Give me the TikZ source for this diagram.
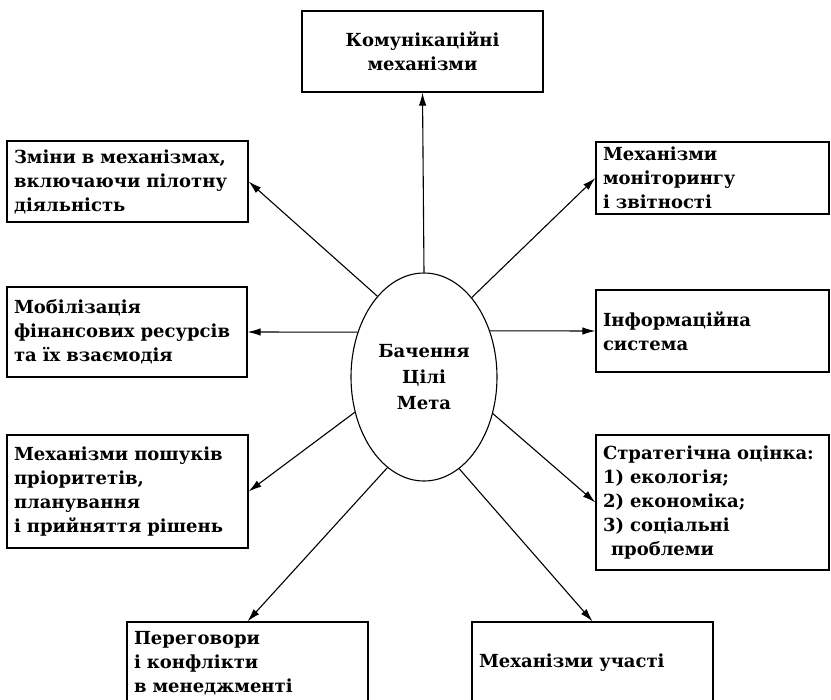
\documentclass[tikz,border=0pt]{standalone}
\usepackage{fontspec}
\setmainfont{DejaVu Serif}
\usetikzlibrary{arrows.meta,shapes.geometric}
\tikzset{
  box/.style={draw, line width=1.2pt, rectangle, inner xsep=7pt, inner ysep=0pt,
    align=left, font=\fontsize{18}{24}\selectfont\bfseries},
  hub/.style={draw, line width=1.1pt, ellipse, minimum width=146pt, minimum height=208pt,
    inner sep=0pt, align=center, font=\fontsize{18}{26}\selectfont\bfseries},
  link/.style={line width=1.1pt, -{Latex[length=13pt,width=7.5pt]}}
}
\begin{document}
\begin{tikzpicture}[x=1pt,y=-1pt]
\useasboundingbox (0,0) rectangle (831,700);
\clip (0,0) rectangle (831,700);
\node[hub] (e) at (424,377) {Бачення\\Цілі\\Мета};
\node[box, align=center, text width=227pt, minimum height=81pt] (tp) at (422.5,51.5) {Комунікаційні\\механізми};
\node[box, text width=227pt, minimum height=81pt] (zm) at (127.5,181.5) {Зміни в механізмах,\\включаючи пілотну\\діяльність};
\node[box, text width=219pt, minimum height=72pt] (mon) at (712.5,178) {Механізми\\моніторингу\\і звітності};
\node[box, text width=226pt, minimum height=90pt] (mob) at (127,332) {Мобілізація\\фінансових ресурсів\\та їх взаємодія};
\node[box, text width=219pt, minimum height=82pt] (inf) at (712.5,331) {Інформаційна\\система};
\node[box, text width=227pt, minimum height=113pt] (pr) at (127.5,491.5) {Механізми пошуків\\пріоритетів,\\планування\\і прийняття рішень};
\node[box, text width=219pt, minimum height=135pt] (st) at (712.5,502.5) {Стратегічна оцінка:\\1) екологія;\\2) економіка;\\3) соціальні\\\hspace*{8pt}проблеми};
\node[box, text width=227pt, minimum height=82pt] (neg) at (247.5,663) {Переговори\\і конфлікти\\в менеджменті};
\node[box, text width=227pt, minimum height=82pt] (par) at (592.5,663) {Механізми участі};
\draw[link] (e.90) -- (tp.south);
\draw[link] (e.120) -- (zm.east);
\draw[link] (e.59) -- (mon.west);
\draw[link] (e.146) -- (mob.east);
\draw[link] (e.35) -- (inf.west);
\draw[link] (e.207) -- (pr.east);
\draw[link] (e.332) -- (st.west);
\draw[link] (e.248) -- (neg.north);
\draw[link] (e.291) -- (par.north);
\end{tikzpicture}
\end{document}
